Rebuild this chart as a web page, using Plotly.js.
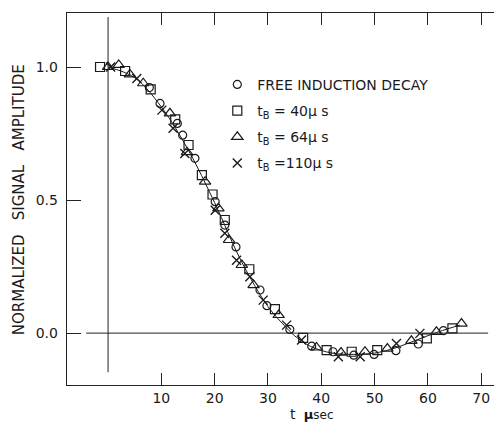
<!DOCTYPE html>
<html>
<head>
<meta charset="utf-8">
<script src="https://cdn.plot.ly/plotly-3.0.1.min.js"></script>
<style>html,body{margin:0;padding:0;background:#fff;}#chart{width:495px;height:423px;}</style>
</head>
<body>
<div id="chart"></div>
<script>
// Free induction decay (circles)
var fidT = [7.75, 9.75, 13.0, 14.0, 16.3, 20.1, 21.9, 24.0, 28.5, 29.8, 34.1, 38.2, 42.2, 46.1, 49.9, 54.0, 58.2, 62.9];
var fidV = [0.923, 0.863, 0.788, 0.744, 0.657, 0.494, 0.406, 0.324, 0.162, 0.103, 0.014, -0.049, -0.07, -0.083, -0.08, -0.066, -0.041, 0.009];
// tB = 40 us (squares)
var b40T = [-1.5, 3.2, 8.0, 12.6, 15.1, 17.6, 19.6, 21.9, 26.5, 31.3, 36.6, 41.0, 45.7, 50.5, 59.8, 64.6];
var b40V = [1.0, 0.985, 0.916, 0.803, 0.707, 0.594, 0.521, 0.425, 0.24, 0.09, -0.018, -0.064, -0.07, -0.064, -0.02, 0.018];
// tB = 64 us (triangles)
var b64T = [0, 2.0, 4.1, 6.6, 11.6, 14.8, 18.2, 20.7, 22.7, 25.1, 27.3, 32.0, 39.1, 43.7, 48.2, 52.4, 56.9, 61.6, 66.3];
var b64V = [1.0, 1.008, 0.972, 0.939, 0.826, 0.68, 0.569, 0.469, 0.35, 0.256, 0.18, 0.068, -0.054, -0.073, -0.07, -0.058, -0.029, 0.005, 0.036];
// tB = 110 us (crosses)
var b110T = [0.5, 5.4, 10.1, 12.2, 14.4, 20.1, 21.9, 24.1, 26.6, 29.1, 33.5, 36.3, 43.2, 47.3, 54.1, 58.5];
var b110V = [1.0, 0.957, 0.838, 0.77, 0.675, 0.462, 0.375, 0.274, 0.212, 0.124, 0.03, -0.026, -0.089, -0.089, -0.039, -0.001];
// smooth curve through the points
var curveT = [0, 5, 10, 15, 20, 25, 30, 33, 35, 38, 42, 46, 50, 54, 58, 62, 66];
var curveV = [1.0, 0.96, 0.85, 0.69, 0.49, 0.27, 0.10, 0.03, -0.01, -0.05, -0.075, -0.08, -0.075, -0.055, -0.025, 0.005, 0.03];

var xTicks = [10, 20, 30, 40, 50, 60, 70];
var yTicks = [0, 0.5, 1.0];
var yTickText = ['0.0', '0.5', '1.0'];
var legendNames = ['FREE INDUCTION DECAY', 't<sub>B</sub> = 40μ s', 't<sub>B</sub> = 64μ s', 't<sub>B</sub> =110μ s'];

var FONT = '"DejaVu Sans", "Liberation Sans", Arial, sans-serif';
var INK = '#1a1a1a';
var mk = function(sym, size){ return {symbol: sym, size: size, color: INK, line: {color: INK, width: 1.2}}; };

var traces = [
  {x: curveT, y: curveV, mode: 'lines', line: {color: INK, width: 1, shape: 'spline'}, showlegend: false, hoverinfo: 'skip'},
  {x: fidT, y: fidV, mode: 'markers', name: legendNames[0], legendgroup: 'a', marker: mk('circle-open', 8)},
  {x: b40T, y: b40V, mode: 'markers', name: legendNames[1], legendgroup: 'b', marker: mk('square-open', 9)},
  {x: b64T, y: b64V, mode: 'markers', name: legendNames[2], legendgroup: 'c', marker: mk('triangle-up-open', 10)},
  {x: b110T, y: b110V, mode: 'markers', name: legendNames[3], legendgroup: 'd', marker: {symbol: 'x-thin-open', size: 9, color: INK, line: {color: INK, width: 1.4}}}
];

var layout = {
  width: 495, height: 423,
  margin: {l: 67, r: 1, t: 13, b: 38},
  paper_bgcolor: '#fff', plot_bgcolor: '#fff',
  font: {family: FONT, color: INK, size: 14},
  showlegend: true,
  legend: {x: 0.352, y: 0.85, xanchor: 'left', yanchor: 'top', bgcolor: 'rgba(0,0,0,0)',
           font: {size: 14, family: FONT, color: INK}, tracegroupgap: 5, traceorder: 'grouped', itemwidth: 30},
  xaxis: {range: [-7.7, 72.4], tickvals: xTicks, ticks: 'inside', ticklen: 12, tickcolor: '#222', tickwidth: 1,
          showline: true, linecolor: '#222', linewidth: 1.3, mirror: 'ticks', showgrid: false, zeroline: false,
          tickfont: {size: 14, family: FONT}},
  yaxis: {range: [-0.195, 1.203], tickvals: yTicks, ticktext: yTickText, ticks: 'inside', ticklen: 14, tickcolor: '#222', tickwidth: 1,
          showline: true, linecolor: '#222', linewidth: 1.3, mirror: false, showgrid: false, zeroline: false,
          ticklabelstandoff: 5, tickfont: {size: 14, family: FONT}},
  shapes: [
    {type: 'line', xref: 'x', yref: 'y', x0: -4.1, x1: 71.3, y0: 0, y1: 0, line: {color: '#222', width: 1}},
    {type: 'line', xref: 'x', yref: 'y', x0: 0, x1: 0, y0: -0.147, y1: 1.188, line: {color: '#222', width: 1}}
  ],
  annotations: [
    {text: 'NORMALIZED   SIGNAL   AMPLITUDE', xref: 'paper', yref: 'y', x: -0.112, y: 0.5, xanchor: 'center', yanchor: 'middle', textangle: -90,
     showarrow: false, font: {size: 15, family: FONT, color: INK}},
    {text: '<span style="font-size:14px">t</span>  <b>μ</b><span style="font-size:12px">sec</span>', xref: 'x', yref: 'paper', x: 38.3, y: -0.078, yanchor: 'middle',
     showarrow: false, font: {size: 13, family: FONT, color: INK}}
  ]
};

Plotly.newPlot('chart', traces, layout, {displayModeBar: false, staticPlot: true});
</script>
</body>
</html>
